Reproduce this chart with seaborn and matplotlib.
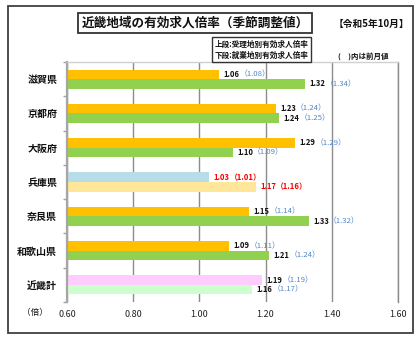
import matplotlib
matplotlib.use("Agg")
import matplotlib.pyplot as plt
import seaborn as sns
import pandas as pd
from matplotlib.patches import Rectangle
from matplotlib.ticker import FixedLocator

# 有効求人倍率（季節調整値）令和5年10月
prefectures = ["滋賀県", "京都府", "大阪府", "兵庫県", "奈良県", "和歌山県", "近畿計"]
upper_current = [1.06, 1.23, 1.29, 1.03, 1.15, 1.09, 1.19]   # 受理地別
upper_previous = [1.08, 1.24, 1.29, 1.01, 1.14, 1.11, 1.19]
lower_current = [1.32, 1.24, 1.10, 1.17, 1.33, 1.21, 1.16]   # 就業地別
lower_previous = [1.34, 1.25, 1.09, 1.16, 1.32, 1.24, 1.17]
series_names = ["受理地別", "就業地別"]
x_ticks = [0.60, 0.80, 1.00, 1.20, 1.40, 1.60]

sns.set_theme(style="white")
plt.rcParams["font.family"] = ["Noto Sans CJK JP", "DejaVu Sans"]

df = pd.DataFrame({
    "地域": prefectures * 2,
    "区分": [series_names[0]] * len(prefectures) + [series_names[1]] * len(prefectures),
    "倍率": upper_current + lower_current,
})

W, H = 420, 343
fig = plt.figure(figsize=(W / 100, H / 100), dpi=100)
fig.patch.set_facecolor("white")
ax = fig.add_axes([67 / W, 1 - 302 / H, 331 / W, 240 / H])

sns.barplot(data=df, y="地域", x="倍率", hue="区分", orient="h",
            order=prefectures, hue_order=series_names, width=0.555,
            dodge=True, linewidth=0, legend=False, ax=ax)

upper_colors = ["#FFC000"] * 3 + ["#B7DEE8"] + ["#FFC000"] * 2 + ["#FFCCFF"]
lower_colors = ["#92D050"] * 3 + ["#FFE699"] + ["#92D050"] * 2 + ["#CCFFCC"]
for bar, c in zip(ax.containers[0], upper_colors):
    bar.set_facecolor(c)
for bar, c in zip(ax.containers[1], lower_colors):
    bar.set_facecolor(c)

ax.set_xlim(0.6, 1.6)
ax.set_ylim(len(prefectures) - 0.5, -0.5)
ax.xaxis.set_major_locator(FixedLocator(x_ticks))
ax.set_xticklabels([f"{t:.2f}" for t in x_ticks], fontsize=6.5, color="#222222")
ax.set_xlabel("")
ax.set_ylabel("")
ax.set_axisbelow(True)
ax.xaxis.grid(True, color="#8c8c8c", lw=1.0)
ax.tick_params(axis="x", length=0, pad=5.5)

ax.yaxis.set_minor_locator(FixedLocator([i - 0.5 for i in range(len(prefectures) + 1)]))
ax.tick_params(axis="y", which="major", length=0, pad=7)
ax.tick_params(axis="y", which="minor", left=True, length=3, width=1, color="#a0a0a0")
for lbl in ax.get_yticklabels():
    lbl.set_fontsize(7.2)
    lbl.set_fontweight("bold")
    lbl.set_color("#111111")

ax.spines["left"].set_color("#a6a6a6")
ax.spines["left"].set_linewidth(1.6)
ax.spines["top"].set_color("#d0d0d0")
ax.spines["top"].set_linewidth(1.0)
ax.spines["right"].set_color("#8c8c8c")
ax.spines["right"].set_linewidth(1.0)
ax.spines["bottom"].set_visible(False)


def value_label(bar, cur, prev, highlight):
    y = bar.get_y() + bar.get_height() / 2
    c1 = "#FF0000" if highlight else "#111111"
    c2 = "#FF0000" if highlight else "#4F86C6"
    t = ax.annotate(f"{cur:.2f}", xy=(cur, y), xytext=(3.2, 0),
                    textcoords="offset points", ha="left", va="center",
                    fontsize=5.5, fontweight="bold", color=c1)
    ax.annotate(f"（{prev:.2f}）", xy=(1, 0.5), xycoords=t, xytext=(0, 0),
                textcoords="offset points", ha="left", va="center",
                fontsize=5.6, color=c2,
                fontweight="bold" if highlight else "normal")


for i, bar in enumerate(ax.containers[0]):
    value_label(bar, upper_current[i], upper_previous[i], prefectures[i] == "兵庫県")
for i, bar in enumerate(ax.containers[1]):
    value_label(bar, lower_current[i], lower_previous[i], prefectures[i] == "兵庫県")

# outer frame
fig.add_artist(Rectangle((8 / W, 1 - 333 / H), 405 / W, 327 / H,
                         transform=fig.transFigure, fill=False,
                         ec="#404040", lw=1.3))

fig.text(195 / W, 1 - 23 / H, "近畿地域の有効求人倍率（季節調整値）",
         ha="center", va="center", fontsize=9.1, fontweight="bold", color="#111111",
         bbox=dict(boxstyle="square,pad=0.3", fc="white", ec="#333333", lw=1.3))
fig.text(371 / W, 1 - 24 / H, "【令和5年10月】", ha="center", va="center",
         fontsize=7, fontweight="bold", color="#111111")
fig.text(261.5 / W, 1 - 49.5 / H, "上段:受理地別有効求人倍率\n下段:就業地別有効求人倍率",
         ha="center", va="center", fontsize=5.5, linespacing=1.3, color="#111111",
         fontweight="bold",
         bbox=dict(boxstyle="square,pad=0.35", fc="white", ec="#333333", lw=1.0))
fig.text(363 / W, 1 - 56 / H, "(　)内は前月値", ha="center", va="center",
         fontsize=5.4, fontweight="bold", color="#111111")
fig.text(35 / W, 1 - 313 / H, "（倍）", ha="center", va="center",
         fontsize=6.2, color="#111111")

fig.savefig("out.png", dpi=100, facecolor="white")
